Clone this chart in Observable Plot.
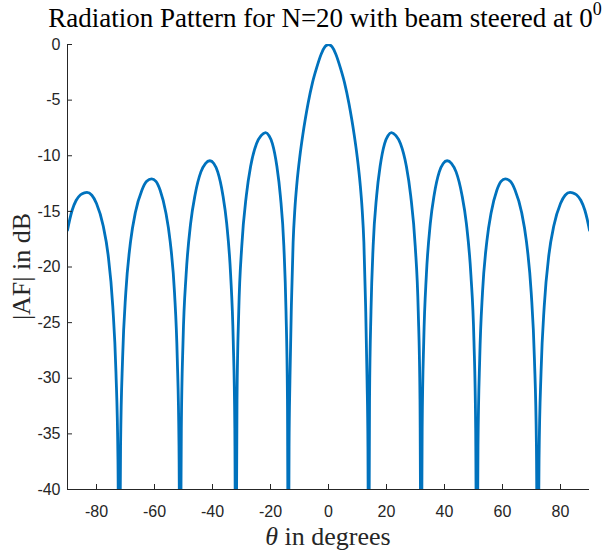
<!DOCTYPE html>
<html><head><meta charset="utf-8">
<script src="https://cdn.jsdelivr.net/npm/d3@7"></script>
<script src="https://cdn.jsdelivr.net/npm/@observablehq/plot@0.6"></script>
<style>
body{margin:0;background:#fff;}
#chart{width:609px;height:553px;}
</style></head><body><div id="chart"></div>
<script>
// angle (degrees)
const theta = [
 -90, -89.2, -88.4, -87.0, -85.5, -84.2, -83.3, -81.6, -80.0, -77.7, -76.0, -74.4, -73.3, -72.6, -72.15,
 -71.7, -71.0, -69.9, -68.25, -66.6, -64.35, -62.7, -61.0, -59.5, -58.05, -56.1, -54.6, -53.1, -52.15, -51.55, -51.15,
 -50.75, -50.15, -49.1, -47.55, -46.0, -44.0, -42.45, -40.9, -39.55, -38.2, -36.45, -35.1, -33.75, -32.85, -32.3, -31.95,
 -31.55, -30.95, -29.9, -28.35, -26.85, -24.8, -23.25, -21.7, -20.5, -19.35, -17.8, -16.6, -15.4, -14.65, -14.15, -13.85,
 -13.6, -13.3, -12.8, -12.2, -11.6, -10.9, -9.9, -8.85, -8.0, -7.05, -5.5, -4.1, -2.5, -1.2, 0,
 1.2, 2.5, 4.1, 5.5, 7.05, 8.0, 8.85, 9.9, 10.9, 11.6, 12.2, 12.8, 13.3, 13.6,
 13.85, 14.15, 14.65, 15.4, 16.6, 17.8, 19.35, 20.5, 21.7, 23.25, 24.8, 26.85, 28.35, 29.9, 30.95, 31.55,
 31.95, 32.3, 32.85, 33.75, 35.1, 36.45, 38.2, 39.55, 40.9, 42.45, 44.0, 46.0, 47.55, 49.1, 50.15, 50.75,
 51.15, 51.55, 52.15, 53.1, 54.6, 56.1, 58.05, 59.5, 61.0, 62.7, 64.35, 66.6, 68.25, 69.9, 71.0, 71.7,
 72.15, 72.6, 73.3, 74.4, 76.0, 77.7, 80.0, 81.6, 83.3, 84.2, 85.5, 87.0, 88.4, 89.2, 90
];
// |AF| in dB read at those angles (nulls drop below the -40 floor)
const afDb = [
 -16.7, -15.7, -14.9, -14.0, -13.5, -13.33, -13.3, -13.55, -14.3, -16.3, -18.9, -23.5, -29.4, -37.3, -52,
 -36.1, -28.2, -22.3, -17.7, -15.1, -13.1, -12.3, -12.07, -12.3, -13.1, -15.1, -17.7, -22.3, -28.2, -36.1, -52,
 -34.5, -26.6, -20.7, -16.1, -13.5, -11.45, -10.7, -10.45, -10.7, -11.45, -13.5, -16.1, -20.7, -26.6, -34.5, -52,
 -31.9, -24.0, -18.1, -13.6, -10.95, -8.9, -8.2, -7.93, -8.2, -8.9, -10.95, -13.6, -18.1, -24.0, -31.9, -52,
 -36.2, -30.2, -23.5, -17.8, -14.8, -12.5, -10.1, -8.1, -6.7, -5.3, -3.4, -2.1, -0.85, -0.2, 0,
 -0.2, -0.85, -2.1, -3.4, -5.3, -6.7, -8.1, -10.1, -12.5, -14.8, -17.8, -23.5, -30.2, -36.2,
 -52, -31.9, -24.0, -18.1, -13.6, -10.95, -8.9, -8.2, -7.93, -8.2, -8.9, -10.95, -13.6, -18.1, -24.0, -31.9,
 -52, -34.5, -26.6, -20.7, -16.1, -13.5, -11.45, -10.7, -10.45, -10.7, -11.45, -13.5, -16.1, -20.7, -26.6, -34.5,
 -52, -36.1, -28.2, -22.3, -17.7, -15.1, -13.1, -12.3, -12.07, -12.3, -13.1, -15.1, -17.7, -22.3, -28.2, -36.1,
 -52, -37.3, -29.4, -23.5, -18.9, -16.3, -14.3, -13.55, -13.3, -13.33, -13.5, -14.0, -14.9, -15.7, -16.7
];
const xTicks = [-80, -60, -40, -20, 0, 20, 40, 60, 80];
const yTicks = [0, -5, -10, -15, -20, -25, -30, -35, -40];
const xDomain = [-90, 90];
const yDomain = [-40, 0];
const titleMain = "Radiation Pattern for N=20 with beam steered at 0";
const titleSup = "0";
const yLabelText = "|AF| in dB";
const xLabelSymbol = "θ";
const xLabelRest = " in degrees";

const data = theta.map((t, i) => ({theta: t, db: afDb[i]}));
const W = 609, H = 553, mL = 67, mR = 20, mT = 44, mB = 64;
const plotW = W - mL - mR, plotH = H - mT - mB;
const axisColor = "#262626";
const serif = "'Liberation Serif', 'Times New Roman', serif";

const svg = Plot.plot({
  width: W, height: H,
  marginLeft: mL, marginRight: mR, marginTop: mT, marginBottom: mB,
  style: {fontFamily: "'Liberation Sans', Arial, sans-serif", fontSize: "16px", color: axisColor, background: "#fff", overflow: "visible"},
  x: {domain: xDomain},
  y: {domain: yDomain},
  marks: [
    Plot.line(data, {x: "theta", y: "db", stroke: "#0072BD", strokeWidth: 2.8, curve: "monotone-x", clip: true}),
    Plot.axisX(xTicks, {tickSize: 0, tickPadding: 16, label: null, tickFormat: d => String(d), fontSize: 16}),
    Plot.axisY(yTicks, {tickSize: 0, tickPadding: 7, label: null, tickFormat: d => String(d), fontSize: 16}),
    Plot.tickX(xTicks, {x: d => d, insetTop: plotH - 5, stroke: axisColor}),
    Plot.tickY(yTicks, {y: d => d, insetRight: plotW - 5, stroke: axisColor}),
    Plot.ruleX([xDomain[0]], {stroke: axisColor}),
    Plot.ruleY([yDomain[0]], {stroke: axisColor})
  ]
});
document.getElementById("chart").appendChild(svg);

const s = d3.select(svg);
const cx = mL + plotW / 2;
const t = s.append("text").attr("x", cx - 3).attr("y", 27).attr("text-anchor", "middle")
  .attr("font-family", serif).attr("font-size", 27).attr("fill", "#000");
t.append("tspan").text(titleMain);
t.append("tspan").attr("dy", -12).attr("font-size", 18).text(titleSup);

const xl = s.append("text").attr("x", cx).attr("y", 545).attr("text-anchor", "middle")
  .attr("font-family", serif).attr("font-size", 26).attr("fill", "#262626");
xl.append("tspan").attr("font-style", "italic").text(xLabelSymbol);
xl.append("tspan").text(xLabelRest);

s.append("text").attr("transform", `translate(30,${mT + plotH / 2}) rotate(-90)`)
  .attr("text-anchor", "middle").attr("font-family", serif).attr("font-size", 26)
  .attr("fill", "#262626").text(yLabelText);
</script>
</body></html>
